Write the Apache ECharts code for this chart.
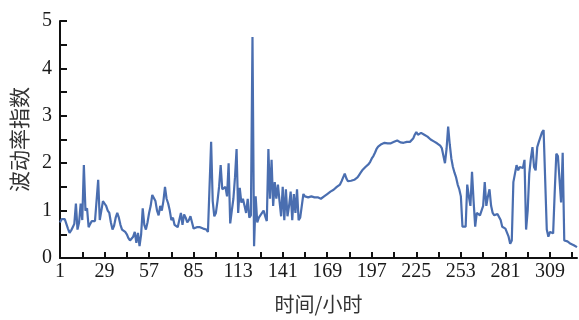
<!DOCTYPE html>
<html>
<head>
<meta charset="utf-8">
<script src="https://cdn.jsdelivr.net/npm/echarts@6/dist/echarts.min.js"></script>
<style>
  html, body { margin: 0; padding: 0; background: #fff; }
  #chart { width: 579px; height: 320px; }
</style>
</head>
<body>
<div id="chart"></div>
<script>
// 波动率指数, one value per hour (1..326)
const volatility = [
  0.75, 0.82, 0.85, 0.82, 0.78, 0.62, 0.53, 0.58, 0.65, 0.72,
  1.15, 0.6, 0.75, 1.15, 0.8, 1.96, 1.0, 1.05, 0.65, 0.72,
  0.78, 0.75, 0.78, 0.8, 1.65, 0.8, 1.0, 1.2, 1.15, 1.1,
  1.0, 0.95, 0.75, 0.6, 0.68, 0.85, 0.95, 0.85, 0.7, 0.6,
  0.58, 0.55, 0.5, 0.42, 0.37, 0.4, 0.45, 0.55, 0.32, 0.53,
  0.25, 0.5, 1.05, 0.7, 0.6, 0.75, 0.95, 1.1, 1.33, 1.3,
  1.2, 1.0, 0.9, 1.1, 1.0, 1.2, 1.5, 1.25, 1.15, 1.0,
  0.8, 0.85, 0.7, 0.68, 0.65, 0.8, 0.95, 0.7, 0.92, 0.85,
  0.75, 0.8, 0.88, 0.75, 0.62, 0.65, 0.65, 0.68, 0.65, 0.65,
  0.62, 0.6, 0.6, 0.55, 1.5, 2.45, 1.2, 0.88, 0.95, 1.2,
  1.5, 1.96, 1.45, 1.45, 1.5, 1.3, 2.0, 0.73, 1.0, 1.25,
  1.7, 2.3, 0.95, 1.48, 1.17, 1.25, 1.1, 0.95, 1.25, 0.85,
  0.9, 4.66, 0.25, 1.3, 0.75, 0.85, 0.88, 0.95, 1.0, 0.88,
  0.78, 2.3, 1.25, 2.07, 1.1, 1.6, 1.25, 1.55, 1.2, 0.88,
  1.5, 0.8, 1.45, 0.88, 1.1, 1.4, 0.8, 1.35, 0.95, 1.45,
  0.8, 0.85, 0.85, 1.35, 1.3, 1.3, 1.28, 1.27, 1.3, 1.27,
  1.28, 1.26, 1.28, 1.27, 1.25, 1.28, 1.3, 1.32, 1.35, 1.37,
  1.4, 1.43, 1.44, 1.45, 1.5, 1.52, 1.55, 1.62, 1.7, 1.78,
  1.68, 1.62, 1.62, 1.63, 1.62, 1.65, 1.68, 1.7, 1.75, 1.8,
  1.85, 1.88, 1.92, 1.95, 1.98, 2.03, 2.1, 2.15, 2.22, 2.3,
  2.35, 2.38, 2.4, 2.42, 2.43, 2.43, 2.42, 2.44, 2.42, 2.43,
  2.45, 2.46, 2.48, 2.46, 2.44, 2.43, 2.43, 2.44, 2.45, 2.45,
  2.45, 2.48, 2.52, 2.6, 2.66, 2.6, 2.62, 2.64, 2.63, 2.6,
  2.58, 2.56, 2.52, 2.5, 2.48, 2.46, 2.44, 2.42, 2.4, 2.37,
  2.32, 2.28, 2.0, 2.3, 2.77, 2.4, 2.1, 1.92, 1.8, 1.7,
  1.55, 1.45, 1.3, 0.66, 0.66, 0.66, 1.55, 1.3, 1.1, 1.82,
  1.2, 0.66, 0.95, 0.92, 0.9, 1.0, 1.1, 1.6, 1.1, 1.3,
  1.45, 1.1, 0.95, 0.9, 0.9, 0.93, 0.95, 0.8, 0.66, 0.63,
  0.62, 0.6, 0.45, 0.3, 0.37, 1.6, 1.62, 1.96, 1.85, 1.92,
  1.9, 1.9, 2.07, 0.6, 1.0, 1.78, 2.1, 2.34, 1.92, 1.85,
  2.34, 2.45, 2.55, 2.65, 2.7, 2.7, 0.6, 0.45, 0.55, 0.55,
  0.52, 1.4, 2.2, 2.15, 2.15, 1.17, 2.22, 0.37, 0.36, 0.35,
  0.33, 0.3, 0.3, 0.27, 0.25, 0.23
];
const hours = volatility.map((_, i) => String(i + 1));

const axisColor = "#111";
const labelFont = { color: "#1a1a1a", fontFamily: "Liberation Serif", fontSize: 20 };
const nameFont = { color: "#333", fontFamily: "Noto Sans CJK SC", fontSize: 20 };

const chart = echarts.init(document.getElementById("chart"));
chart.setOption({
  animation: false,
  grid: { left: 60, right: 2, top: 21, bottom: 62 },
  xAxis: {
    type: "category",
    data: hours,
    boundaryGap: false,
    name: "时间/小时",
    nameLocation: "middle",
    nameGap: 36,
    nameTextStyle: nameFont,
    axisLine: { lineStyle: { color: axisColor, width: 2 } },
    axisTick: { inside: true, length: 6, interval: 13, lineStyle: { color: axisColor, width: 2 } },
    axisLabel: { ...labelFont, interval: 27, margin: 4 }
  },
  yAxis: {
    type: "value",
    min: 0,
    max: 5,
    interval: 0.5,
    name: "波动率指数",
    nameLocation: "middle",
    nameRotate: 90,
    nameGap: 30,
    nameTextStyle: { ...nameFont, fontSize: 21 },
    splitLine: { show: false },
    axisLine: { show: true, lineStyle: { color: axisColor, width: 2 } },
    axisTick: { show: true, inside: true, length: 7, lineStyle: { color: axisColor, width: 2 } },
    axisLabel: {
      ...labelFont,
      margin: 8,
      formatter: (v) => (Number.isInteger(v) ? String(v) : "")
    }
  },
  series: [
    {
      type: "line",
      data: volatility,
      showSymbol: false,
      lineStyle: { color: "#4a6eb0", width: 2.2 },
      emphasis: { disabled: true }
    }
  ]
});
</script>
</body>
</html>
